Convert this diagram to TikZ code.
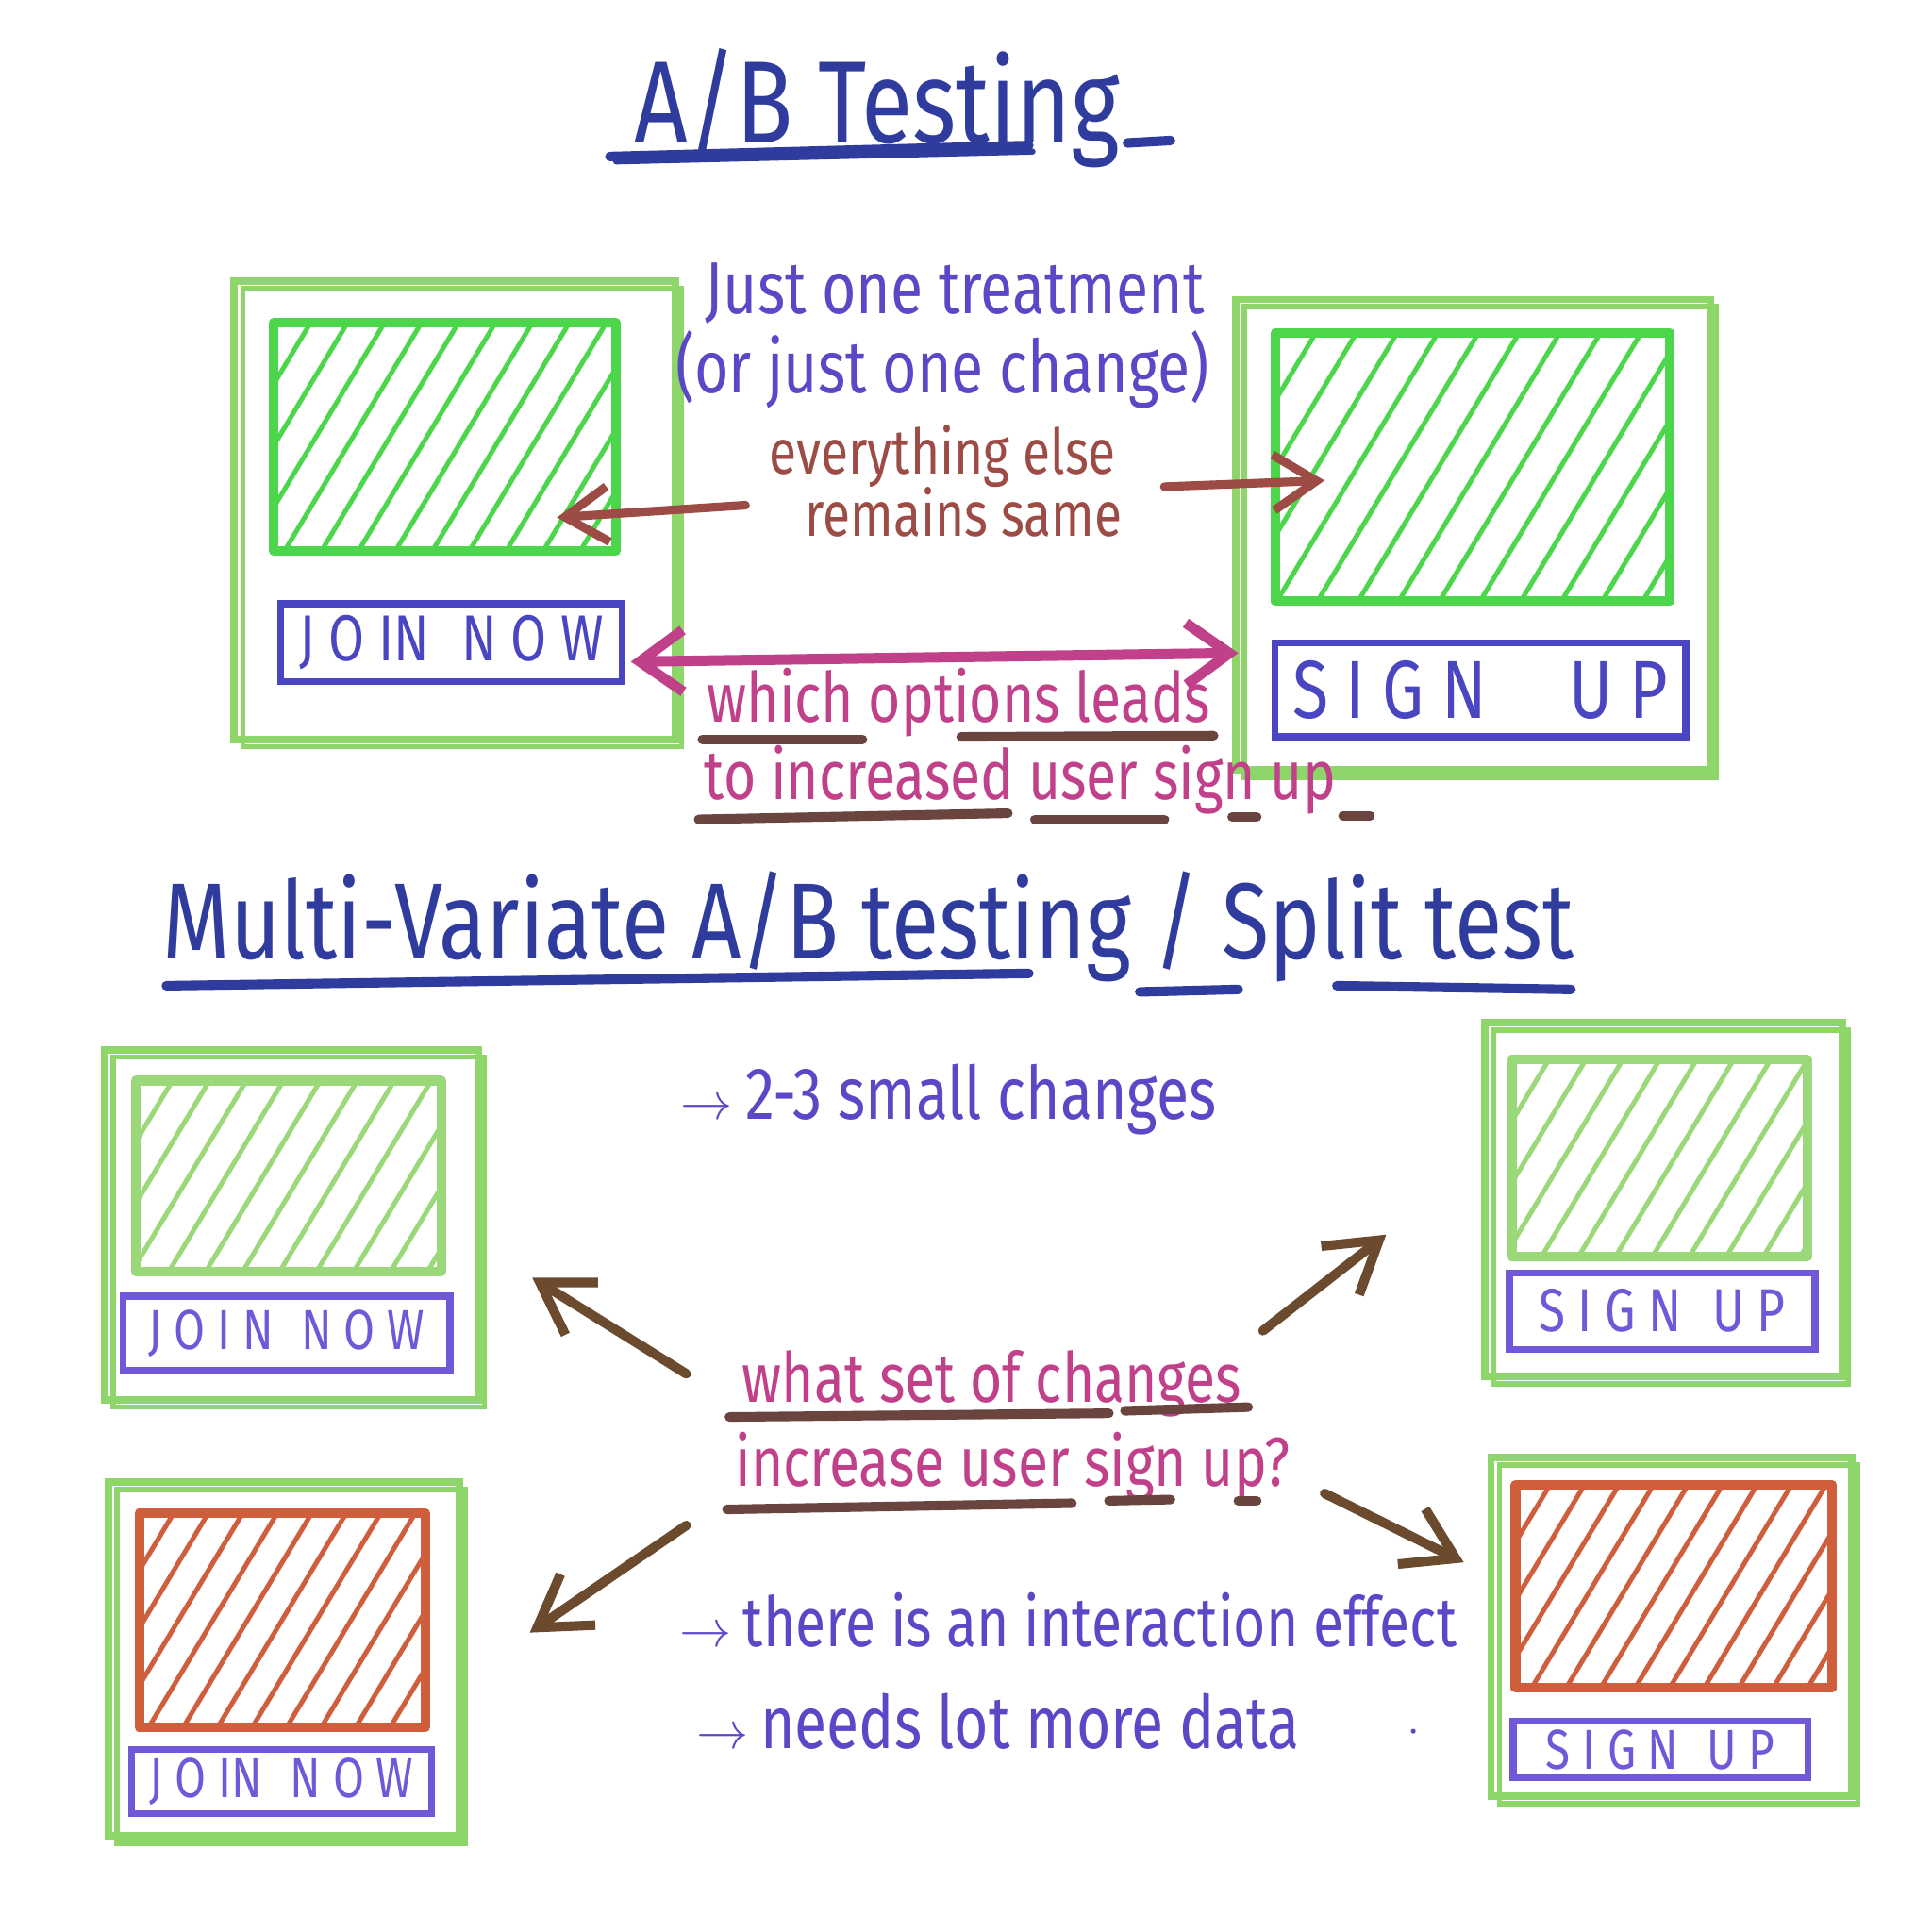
\documentclass[tikz,border=0pt]{standalone}
\usepackage{fontspec}
\setmainfont{Fira Sans}[FakeStretch=0.8]
\usetikzlibrary{arrows.meta}
\definecolor{titleblue}{HTML}{2F3C9E}
\definecolor{penblue}{HTML}{5B48C6}
\definecolor{btnblue}{HTML}{4A45C0}
\definecolor{btnlight}{HTML}{7058D8}
\definecolor{outergreen}{HTML}{8FD66A}
\definecolor{brightgreen}{HTML}{4CD64C}
\definecolor{lightgreen}{HTML}{9AD87A}
\definecolor{rust}{HTML}{9C4B45}
\definecolor{magentapen}{HTML}{C0408A}
\definecolor{ulbrown}{HTML}{6A4540}
\definecolor{arrbrown}{HTML}{6B4A2E}
\definecolor{orangepen}{HTML}{CF5F3C}
\newcommand{\hatchrect}[6]{%
  \begin{scope}
    \clip (#1,#2) rectangle (#3,#4);
    \pgfmathsetmacro{\hh}{#4-#2}
    \pgfmathsetmacro{\xs}{#1-0.6*\hh}
    \pgfmathsetmacro{\xn}{\xs+#6}
    \foreach \xx in {\xs,\xn,...,#3} {
      \draw[#5, line width=1.1pt, line cap=round] (\xx,#4) -- ++(0.6*\hh,-\hh);
    }
  \end{scope}
  \draw[#5, line width=2.2pt, line cap=round, line join=round] (#1,#2) rectangle (#3,#4);
}
\newcommand{\sketchbox}[4]{%
  \draw[outergreen, line width=1.7pt] (#1,#2) rectangle (#3,#4);
  \draw[outergreen, line width=1.2pt] (#1+7,#2+6) rectangle (#3+5,#4+6);
}
\tikzset{
  titletxt/.style={text=titleblue, font=\fontsize{27}{30}\selectfont, inner sep=0pt},
  bluetxt/.style={text=penblue, font=\fontsize{17}{20}\selectfont, inner sep=0pt},
  rusttxt/.style={text=rust, font=\fontsize{14.5}{17}\selectfont, inner sep=0pt},
  magtxt/.style={text=magentapen, font=\fontsize{16}{19}\selectfont, inner sep=0pt},
  btntxt/.style={text=btnblue, font=\fontsize{15}{18}\selectfont, inner sep=0pt},
  btnsmall/.style={text=btnlight, font=\fontsize{13}{15}\selectfont, inner sep=0pt},
  btnbox/.style={draw=btnblue, line width=1.6pt},
  btnboxl/.style={draw=btnlight, line width=1.6pt},
  titleul/.style={titleblue, line width=2.2pt, line cap=round},
  brownul/.style={ulbrown, line width=2.2pt, line cap=round},
  rustarrow/.style={rust, line width=2pt, line cap=round, -{Straight Barb[length=3.5mm, width=4.5mm, line width=2pt]}},
  magarrow/.style={magentapen, line width=2.4pt, line cap=round, {Straight Barb[length=3.5mm, width=5mm, line width=2.4pt]}-{Straight Barb[length=3.5mm, width=5mm, line width=2.4pt]}},
  brarrow/.style={arrbrown, line width=2.2pt, line cap=round, -{Straight Barb[length=4mm, width=5mm, line width=2.2pt]}},
}
\begin{document}
\begin{tikzpicture}[x=0.01cm, y=-0.01cm]
\useasboundingbox[fill=white] (0,0) rectangle (1568,1568);

% ---------- Title ----------
\node[titletxt] (title1) at (712,88) {A/B Testing};
\draw[titleul] (495,127) -- (835,118);
\draw[titleul, line width=1.4pt] (500,131) -- (838,123);
\draw[titleul] (915,116) -- (950,114);

% ---------- Top left screen ----------
\sketchbox{190}{228}{548}{600}
\hatchrect{222}{262}{500}{447}{brightgreen}{30}
\node[btnbox, minimum width=2.77cm, minimum height=0.63cm, inner sep=0pt] (btnA) at (366.5,521.5) {};
\node[btntxt] (btnAt) at (btnA) {J O IN\enspace N O W};

% ---------- Top right screen ----------
\sketchbox{1003}{243}{1388}{625}
\hatchrect{1035}{270}{1355}{488}{brightgreen}{33}
\node[btnbox, minimum width=3.33cm, minimum height=0.76cm, inner sep=0pt] (btnB) at (1201.5,560) {};
\node[btntxt, font=\fontsize{19}{22}\selectfont] (btnBt) at (btnB) {S I G N\quad U P};

% ---------- Top annotations ----------
\node[bluetxt] (just) at (775,238) {Just one treatment};
\node[bluetxt] (orjust) at (765,300) {(or just one change)};
\node[rusttxt] (every) at (765,370) {everything else};
\node[rusttxt] (remains) at (782,416) {remains same};
\coordinate (rl1) at (605,410);
\coordinate (rl2) at (452,420);
\coordinate (rr1) at (945,395);
\coordinate (rr2) at (1075,390);
\draw[rustarrow] (rl1) -- (rl2);
\draw[rustarrow] (rr1) -- (rr2);
\coordinate (ma1) at (512,537);
\coordinate (ma2) at (1005,530);
\draw[magarrow] (ma1) -- (ma2);
\node[magtxt] (which) at (778,570) {which options leads};
\node[magtxt] (toinc) at (828,633) {to increased user sign up};
\draw[brownul] (570,600) -- (700,600);
\draw[brownul] (780,598) -- (985,597);
\draw[brownul] (567,665) -- (818,660);
\draw[brownul] (840,665) -- (945,665);
\draw[brownul] (1000,663) -- (1020,663);
\draw[brownul] (1090,662) -- (1112,662);

% ---------- Second title ----------
\node[titletxt, font=\fontsize{25}{28}\selectfont] (title2) at (705,752) {Multi-Variate A/B testing / Split test};
\draw[titleul] (135,800) -- (835,790);
\draw[titleul] (925,805) -- (1005,803);
\draw[titleul] (1085,800) -- (1275,803);

\node[bluetxt] (small) at (770,892) {{\fontsize{13}{15}\selectfont$\rightarrow$}\,2-3 small changes};

% ---------- Bottom left screens ----------
\sketchbox{85}{852}{388}{1136}
\hatchrect{110}{877}{358}{1032}{lightgreen}{30}
\node[btnboxl, minimum width=2.65cm, minimum height=0.6cm, inner sep=0pt] (btnC) at (232.5,1082) {};
\node[btnsmall] (btnCt) at (btnC) {J O I N\enspace N O W};

\sketchbox{88}{1203}{373}{1490}
\hatchrect{113}{1228}{345}{1402}{orangepen}{28}
\node[btnboxl, minimum width=2.43cm, minimum height=0.52cm, inner sep=0pt] (btnD) at (228.5,1446) {};
\node[btnsmall] (btnDt) at (btnD) {J O IN\enspace N O W};

% ---------- Bottom right screens ----------
\sketchbox{1205}{830}{1495}{1117}
\hatchrect{1227}{860}{1467}{1020}{lightgreen}{30}
\node[btnboxl, minimum width=2.48cm, minimum height=0.62cm, inner sep=0pt] (btnE) at (1349,1064) {};
\node[btnsmall, font=\fontsize{14}{16}\selectfont] (btnEt) at (btnE) {S I G N\enspace U P};

\sketchbox{1210}{1183}{1503}{1458}
\hatchrect{1230}{1205}{1487}{1370}{orangepen}{28}
\node[btnboxl, minimum width=2.39cm, minimum height=0.46cm, inner sep=0pt] (btnF) at (1347.5,1420) {};
\node[btnsmall] (btnFt) at (btnF) {S I G N\enspace U P};

% ---------- Central question ----------
\node[magtxt] (whatset) at (805,1123) {what set of changes};
\node[magtxt] (incr) at (822,1190) {increase user sign up?};
\draw[brownul] (592,1150) -- (900,1147);
\draw[brownul] (913,1145) -- (1013,1142);
\draw[brownul] (590,1225) -- (870,1220);
\draw[brownul] (900,1218) -- (950,1217);
\draw[brownul] (1005,1218) -- (1020,1218);

\coordinate (b1s) at (557,1115); \coordinate (b1e) at (432,1037);
\coordinate (b2s) at (1025,1080); \coordinate (b2e) at (1125,1002);
\coordinate (b3s) at (557,1238); \coordinate (b3e) at (430,1325);
\coordinate (b4s) at (1075,1212); \coordinate (b4e) at (1188,1268);
\draw[brarrow] (b1s) -- (b1e);
\draw[brarrow] (b2s) -- (b2e);
\draw[brarrow] (b3s) -- (b3e);
\draw[brarrow] (b4s) -- (b4e);

\node[bluetxt, font=\fontsize{16}{19}\selectfont] (inter) at (867,1315) {{\fontsize{13}{15}\selectfont$\rightarrow$}\,there is an interaction effect};
\node[bluetxt] (needs) at (810,1397) {{\fontsize{13}{15}\selectfont$\rightarrow$}\,needs lot more data};
\fill[penblue] (1147,1405) circle (2);
\end{tikzpicture}
\end{document}
